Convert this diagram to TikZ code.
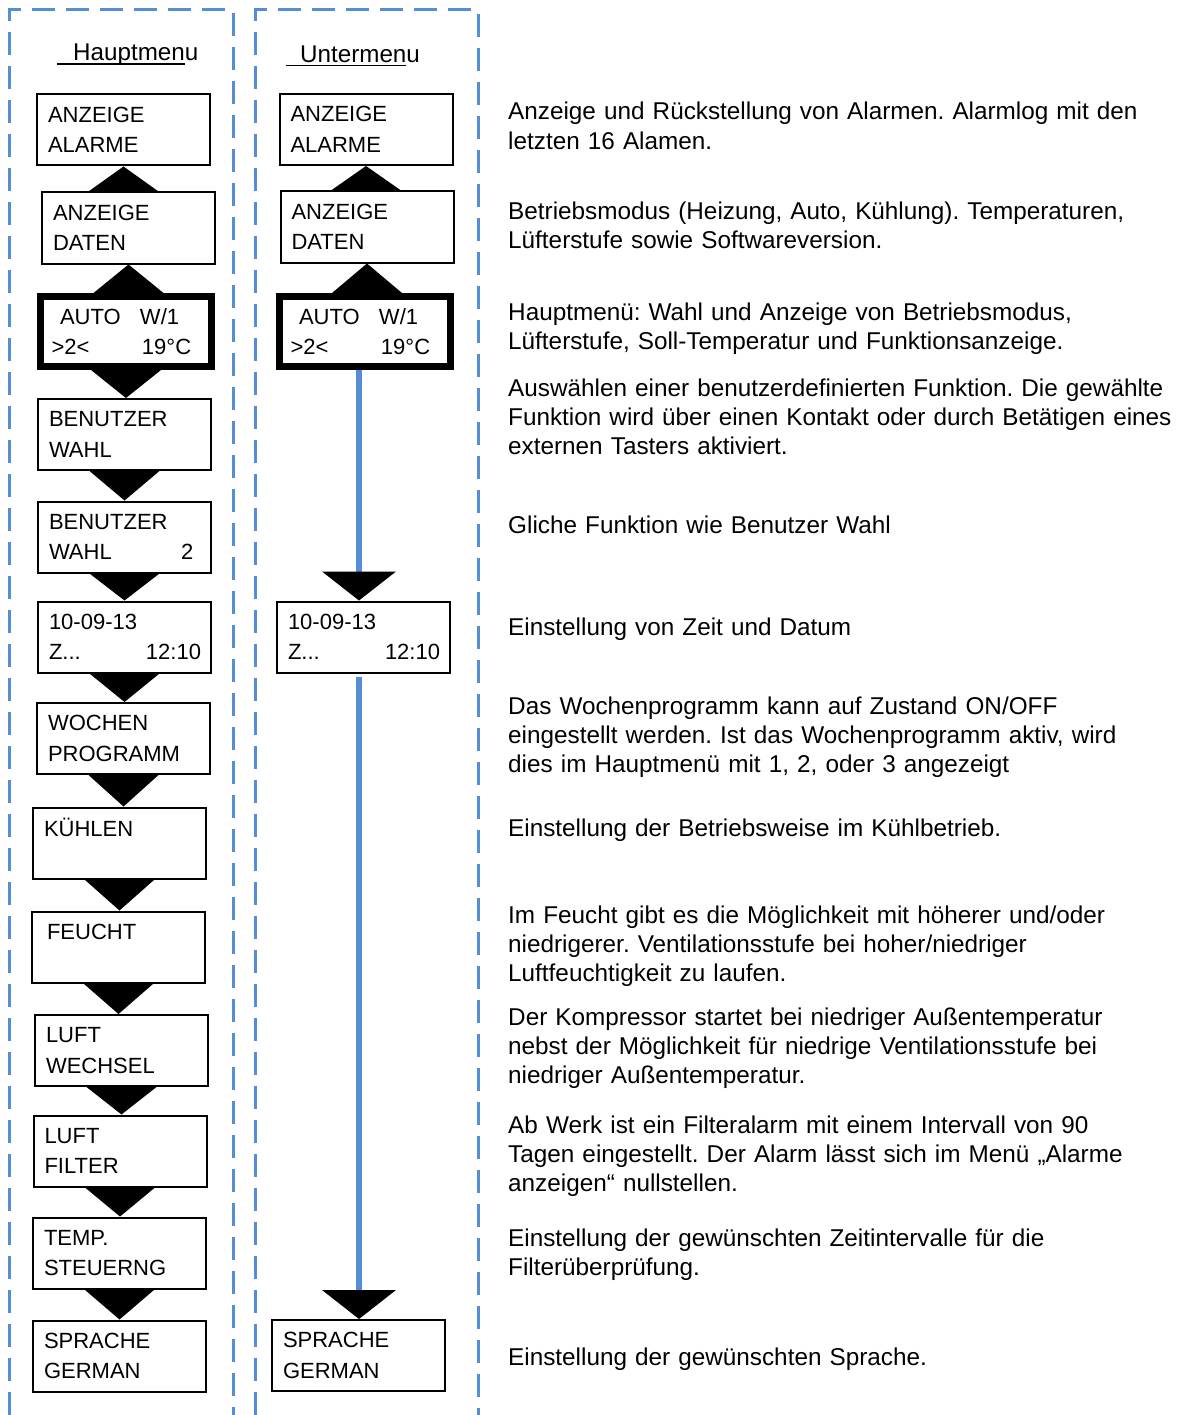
\documentclass[tikz,border=0pt]{standalone}
\usepackage{fontspec}
\setmainfont{Liberation Sans}
\usepackage{xcolor}
\usetikzlibrary{calc,arrows.meta}
\definecolor{railblue}{RGB}{85,142,213}
\newcommand\ulhead[1]{\sbox0{#1}\rlap{\rule[-4pt]{\wd0}{1.8pt}}\usebox0}
\frenchspacing

\tikzset{
  lcd/.style={draw, line width=2pt, fill=white, text width=151pt, minimum height=71pt,
    inner xsep=11pt, align=left, font=\fontsize{22pt}{30.5pt}\selectfont},
  lcdsel/.style={lcd, line width=7pt, text width=149pt, minimum height=70pt},
  desc/.style={anchor=base west, inner sep=0pt, text width=700pt, align=left,
    font=\fontsize{24.3pt}{29.3pt}\selectfont},
  head/.style={anchor=base west, inner sep=0pt, font=\fontsize{24.2pt}{29pt}\selectfont},
  menuframe/.style={draw=railblue, line width=3pt, dash pattern=on 23pt off 11pt},
  subline/.style={draw=railblue, line width=6pt,
    -{Triangle[width=74pt,length=29pt,line width=0pt,color=black]}}
}

\begin{document}
\begin{tikzpicture}[x=1pt,y=-1pt]
\useasboundingbox (0,0) rectangle (1178,1415);

% columns
\draw[menuframe] (9,1415) -- (9,10) -- (233,10) -- (233,1415);
\draw[menuframe] (255,1415) -- (255,10) -- (478,10) -- (478,1415);

\node[head] (titleH) at (57,61) {\ulhead{\hspace*{16pt}Hauptmen}u};
\node[head] (titleU) at (286,62.5) {\ulhead{\hspace*{14pt}Untermen}u};

% Hauptmenu
\node[lcd] (alarmH) at (123.5,130) {ANZEIGE\\ALARME};
\node[lcd] (datenH) at (128.5,228) {ANZEIGE\\DATEN};
\node[lcdsel] (autoH) at (126,331.5) {\hspace*{8.5pt}\makebox[80pt][l]{AUTO}W/1\\\makebox[90.5pt][l]{>2<}19°C};
\node[lcd] (benH) at (124.5,434.5) {BENUTZER\\WAHL};
\node[lcd] (ben2H) at (124.5,537) {BENUTZER\\\makebox[132pt][l]{WAHL}2};
\node[lcd] (zeitH) at (124.5,637) {10-09-13\\\makebox[97pt][l]{Z...}12:10};
\node[lcd] (wochH) at (123.5,738.5) {WOCHEN\\PROGRAMM};
\node[lcd] (kuehlH) at (119.5,843) {KÜHLEN\\\mbox{}};
\node[lcd] (feuchtH) at (118.5,947) {\hspace*{4pt}FEUCHT\\\mbox{}};
\node[lcd] (wechselH) at (121.5,1050.5) {LUFT\\WECHSEL};
\node[lcd] (filterH) at (120,1151) {LUFT\\FILTER};
\node[lcd] (tempH) at (119.5,1253) {TEMP.\\STEUERNG};
\node[lcd] (spracheH) at (119.5,1356) {SPRACHE\\GERMAN};

% Untermenu
\node[lcd] (alarmU) at (366,129.5) {ANZEIGE\\ALARME};
\node[lcd] (datenU) at (367,227) {ANZEIGE\\DATEN};
\node[lcdsel] (autoU) at (365,331.5) {\hspace*{8.5pt}\makebox[80pt][l]{AUTO}W/1\\\makebox[90.5pt][l]{>2<}19°C};
\node[lcd] (zeitU) at (363.5,637) {10-09-13\\\makebox[97pt][l]{Z...}12:10};
\node[lcd] (spracheU) at (358.5,1355.5) {SPRACHE\\GERMAN};

% up / down
\foreach \a/\b in {alarmH/datenH, datenH/autoH, alarmU/datenU, datenU/autoU}
  \fill (\a.south) -- ($(\a.south |- \b.north)+(-35,0)$) -- ($(\a.south |- \b.north)+(35,0)$) -- cycle;
\foreach \a/\b in {autoH/benH, benH/ben2H, ben2H/zeitH, zeitH/wochH, wochH/kuehlH,
  kuehlH/feuchtH, feuchtH/wechselH, wechselH/filterH, filterH/tempH, tempH/spracheH}
  \fill ($(\a.south)+(-35,0)$) -- ($(\a.south)+(35,0)$) -- (\a.south |- \b.north) -- cycle;

\coordinate (rail) at (359,0);
\draw[subline] (autoU.south -| rail) -- (zeitU.north -| rail);
\draw[subline] ($(zeitU.south -| rail)+(0,3)$) -- (spracheU.north -| rail);

% Beschreibung
\foreach \y/\txt [count=\i] in {
  120/{Anzeige und Rückstellung von Alarmen. Alarmlog mit den\\letzten 16 Alamen.},
  219.5/{Betriebsmodus (Heizung, Auto, Kühlung). Temperaturen,\\Lüfterstufe sowie Softwareversion.},
  320/{Hauptmenü: Wahl und Anzeige von Betriebsmodus,\\Lüfterstufe, Soll-Temperatur und Funktionsanzeige.},
  396/{Auswählen einer benutzerdefinierten Funktion. Die gewählte\\Funktion wird über einen Kontakt oder durch Betätigen eines\\externen Tasters aktiviert.},
  533/{Gliche Funktion wie Benutzer Wahl},
  635/{Einstellung von Zeit und Datum},
  714/{Das Wochenprogramm kann auf Zustand ON/OFF\\eingestellt werden. Ist das Wochenprogramm aktiv, wird\\dies im Hauptmenü mit 1, 2, oder 3 angezeigt},
  836/{Einstellung der Betriebsweise im Kühlbetrieb.},
  923/{Im Feucht gibt es die Möglichkeit mit höherer und/oder\\niedrigerer. Ventilationsstufe bei hoher/niedriger\\Luftfeuchtigkeit zu laufen.},
  1025/{Der Kompressor startet bei niedriger Außentemperatur\\nebst der Möglichkeit für niedrige Ventilationsstufe bei\\niedriger Außentemperatur.},
  1133/{Ab Werk ist ein Filteralarm mit einem Intervall von 90\\Tagen eingestellt. Der Alarm lässt sich im Menü „Alarme\\anzeigen“ nullstellen.},
  1246/{Einstellung der gewünschten Zeitintervalle für die\\Filterüberprüfung.},
  1365/{Einstellung der gewünschten Sprache.}}
  \node[desc] (desc\i) at (508,\y) {\txt};
\end{tikzpicture}
\end{document}
